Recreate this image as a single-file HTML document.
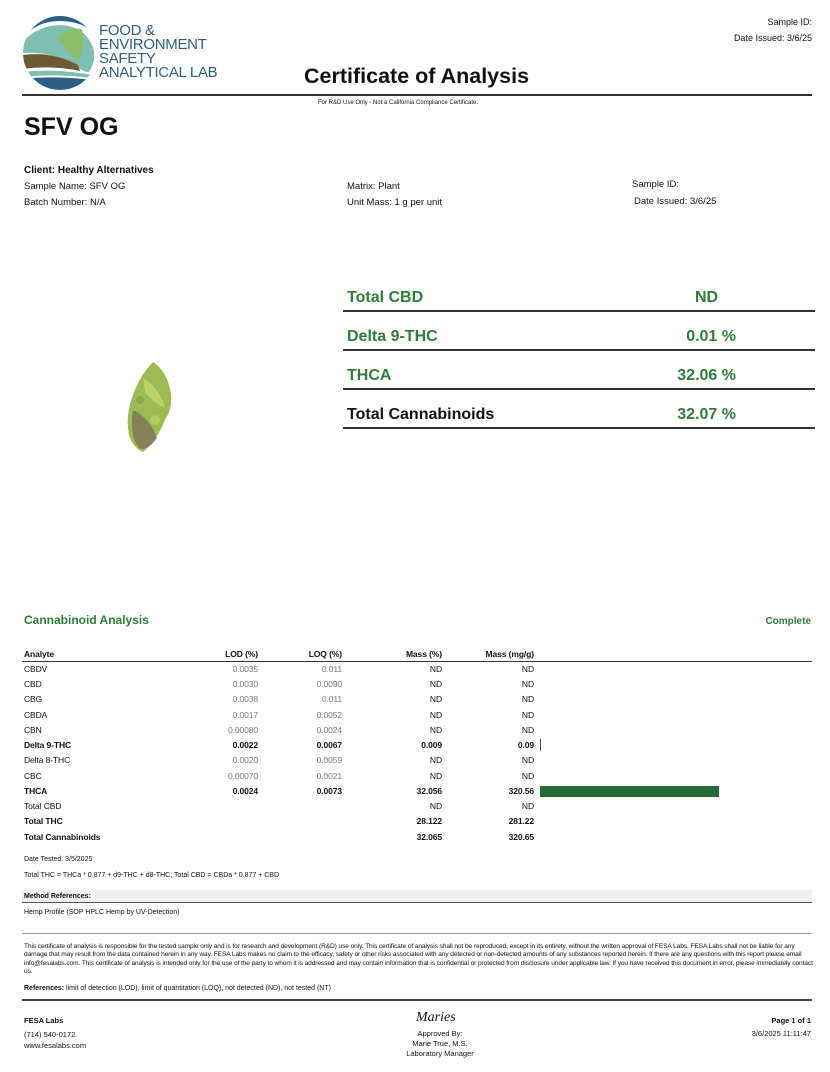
<!DOCTYPE html>
<html><head><meta charset="utf-8"><style>
*{margin:0;padding:0;box-sizing:border-box}
body{width:830px;height:1072px;background:#fff;position:relative;font-family:"Liberation Sans",Arial,sans-serif;color:#111;overflow:hidden}
.a{position:absolute;white-space:nowrap}
.g{color:#2e7d3a}
.r{text-align:right}
.t{font-size:8.5px;letter-spacing:-0.1px}
.gr{color:#777}
.b{font-weight:bold}
</style></head><body>
<svg class="a" style="left:22px;top:15px" width="76" height="76" viewBox="0 0 76 76">
<defs><clipPath id="c"><circle cx="38" cy="38" r="37"/></clipPath></defs>
<g clip-path="url(#c)">
<rect width="76" height="76" fill="#fff"/>
<path d="M0 0 L76 0 L76 20 Q60 6 38 6 Q15 6 2 22Z" fill="#2b5f86"/>
<path d="M0 28 Q15 10 40 10 Q62 12 70 30 Q76 45 66 58 L50 50 Q30 36 0 38Z" fill="#7fbfb0"/>
<path d="M36 22 Q46 12 60 14 Q64 32 56 46 Q44 36 36 22Z" fill="#8bbd6a"/>
<path d="M0 40 Q30 36 56 50 L58 56 Q30 50 0 54Z" fill="#6b5a33"/>
<path d="M0 56 Q35 52 76 60 L76 64 Q38 58 0 62Z" fill="#7fbfb0"/>
<path d="M0 64 Q38 60 76 66 L76 76 L0 76Z" fill="#2b5f86"/>
</g>
<path d="M0 56 Q35 52 76 60" stroke="#fff" stroke-width="2" fill="none"/>
</svg>
<div class="a" style="left:99px;top:24px;font-size:15px;line-height:14px;color:#2d5d80;letter-spacing:-0.3px">FOOD &amp;<br>ENVIRONMENT<br>SAFETY<br>ANALYTICAL LAB</div>
<div class="a r" style="right:18px;top:17px;font-size:9px">Sample ID:</div>
<div class="a r" style="right:18px;top:33px;font-size:9px">Date Issued: 3/6/25</div>
<div class="a b" style="left:304px;top:64px;font-size:21.5px">Certificate of Analysis</div>
<div class="a" style="left:22px;top:94px;width:790px;height:2px;background:#333"></div>
<div class="a" style="left:318px;top:100px;font-size:6px">For R&amp;D Use Only - Not a California Compliance Certificate.</div>
<div class="a b" style="left:24px;top:113px;font-size:25px">SFV OG</div>
<div class="a b" style="left:24px;top:165px;font-size:10px">Client: Healthy Alternatives</div>
<div class="a" style="left:24px;top:181px;font-size:9.5px">Sample Name: SFV OG</div>
<div class="a" style="left:24px;top:197px;font-size:9.5px">Batch Number: N/A</div>
<div class="a" style="left:347px;top:181px;font-size:9.5px">Matrix: Plant</div>
<div class="a" style="left:347px;top:197px;font-size:9.5px">Unit Mass: 1 g per unit</div>
<div class="a" style="left:632px;top:179px;font-size:9.5px">Sample ID:</div>
<div class="a" style="left:634px;top:196px;font-size:9.5px">Date Issued: 3/6/25</div>

<svg class="a" style="left:125px;top:360px" width="50" height="95" viewBox="0 0 50 95">
<path d="M28 2 Q40 10 44 25 Q50 45 40 60 Q32 80 18 92 Q8 88 4 75 Q0 55 8 35 Q15 15 28 2Z" fill="#9dbb55"/>
<path d="M8 50 Q25 58 32 78 Q22 92 14 88 Q4 75 8 50Z" fill="#7a6e5a" opacity=".75"/>
<path d="M18 18 Q35 28 40 48 Q30 44 20 32Z" fill="#c3d86a" opacity=".8"/>
<circle cx="30" cy="60" r="5" fill="#b8cf60" opacity=".8"/>
<circle cx="15" cy="40" r="4" fill="#8aa848"/>
</svg>

<div class="a b g" style="left:347px;top:289px;font-size:16px">Total CBD</div>
<div class="a b g" style="left:695px;top:289px;font-size:16px">ND</div>
<div class="a" style="left:343px;top:310px;width:472px;height:2px;background:#333"></div>
<div class="a b g" style="left:347px;top:328px;font-size:16px">Delta 9-THC</div>
<div class="a b g r" style="left:600px;width:136px;top:328px;font-size:16px">0.01 %</div>
<div class="a" style="left:343px;top:349px;width:472px;height:2px;background:#333"></div>
<div class="a b g" style="left:347px;top:367px;font-size:16px">THCA</div>
<div class="a b g r" style="left:600px;width:136px;top:367px;font-size:16px">32.06 %</div>
<div class="a" style="left:343px;top:388px;width:472px;height:2px;background:#333"></div>
<div class="a b" style="left:347px;top:406px;font-size:16px">Total Cannabinoids</div>
<div class="a b g r" style="left:600px;width:136px;top:406px;font-size:16px">32.07 %</div>
<div class="a" style="left:343px;top:427px;width:472px;height:2px;background:#333"></div>

<div class="a b g" style="left:24px;top:613px;font-size:12px">Cannabinoid Analysis</div>
<div class="a b g" style="right:19px;top:616px;font-size:10px">Complete</div>

<div class="a b t" style="left:24px;top:649px">Analyte</div>
<div class="a b t r" style="left:158px;width:100px;top:649px">LOD (%)</div>
<div class="a b t r" style="left:242px;width:100px;top:649px">LOQ (%)</div>
<div class="a b t r" style="left:342px;width:100px;top:649px">Mass (%)</div>
<div class="a b t r" style="left:434px;width:100px;top:649px">Mass (mg/g)</div>
<div class="a" style="left:22px;top:661px;width:790px;height:1px;background:#333"></div>

<div class="a t" style="left:24px;top:664px">CBDV</div><div class="a t r gr" style="left:158px;width:100px;top:664px">0.0035</div><div class="a t r gr" style="left:242px;width:100px;top:664px">0.011</div><div class="a t r" style="left:342px;width:100px;top:664px">ND</div><div class="a t r" style="left:434px;width:100px;top:664px">ND</div>
<div class="a t" style="left:24px;top:679px">CBD</div><div class="a t r gr" style="left:158px;width:100px;top:679px">0.0030</div><div class="a t r gr" style="left:242px;width:100px;top:679px">0.0090</div><div class="a t r" style="left:342px;width:100px;top:679px">ND</div><div class="a t r" style="left:434px;width:100px;top:679px">ND</div>
<div class="a t" style="left:24px;top:694px">CBG</div><div class="a t r gr" style="left:158px;width:100px;top:694px">0.0038</div><div class="a t r gr" style="left:242px;width:100px;top:694px">0.011</div><div class="a t r" style="left:342px;width:100px;top:694px">ND</div><div class="a t r" style="left:434px;width:100px;top:694px">ND</div>
<div class="a t" style="left:24px;top:710px">CBDA</div><div class="a t r gr" style="left:158px;width:100px;top:710px">0.0017</div><div class="a t r gr" style="left:242px;width:100px;top:710px">0.0052</div><div class="a t r" style="left:342px;width:100px;top:710px">ND</div><div class="a t r" style="left:434px;width:100px;top:710px">ND</div>
<div class="a t" style="left:24px;top:725px">CBN</div><div class="a t r gr" style="left:158px;width:100px;top:725px">0.00080</div><div class="a t r gr" style="left:242px;width:100px;top:725px">0.0024</div><div class="a t r" style="left:342px;width:100px;top:725px">ND</div><div class="a t r" style="left:434px;width:100px;top:725px">ND</div>
<div class="a t b" style="left:24px;top:740px">Delta 9-THC</div><div class="a t r b" style="left:158px;width:100px;top:740px">0.0022</div><div class="a t r b" style="left:242px;width:100px;top:740px">0.0067</div><div class="a t r b" style="left:342px;width:100px;top:740px">0.009</div><div class="a t r b" style="left:434px;width:100px;top:740px">0.09</div><div class="a" style="left:540px;top:739px;width:1px;height:12px;background:#2a6b37"></div>
<div class="a t" style="left:24px;top:755px">Delta 8-THC</div><div class="a t r gr" style="left:158px;width:100px;top:755px">0.0020</div><div class="a t r gr" style="left:242px;width:100px;top:755px">0.0059</div><div class="a t r" style="left:342px;width:100px;top:755px">ND</div><div class="a t r" style="left:434px;width:100px;top:755px">ND</div>
<div class="a t" style="left:24px;top:771px">CBC</div><div class="a t r gr" style="left:158px;width:100px;top:771px">0.00070</div><div class="a t r gr" style="left:242px;width:100px;top:771px">0.0021</div><div class="a t r" style="left:342px;width:100px;top:771px">ND</div><div class="a t r" style="left:434px;width:100px;top:771px">ND</div>
<div class="a t b" style="left:24px;top:786px">THCA</div><div class="a t r b" style="left:158px;width:100px;top:786px">0.0024</div><div class="a t r b" style="left:242px;width:100px;top:786px">0.0073</div><div class="a t r b" style="left:342px;width:100px;top:786px">32.056</div><div class="a t r b" style="left:434px;width:100px;top:786px">320.56</div><div class="a" style="left:540px;top:786px;width:179px;height:11px;background:#266b36"></div>
<div class="a t" style="left:24px;top:801px">Total CBD</div><div class="a t r" style="left:342px;width:100px;top:801px">ND</div><div class="a t r" style="left:434px;width:100px;top:801px">ND</div>
<div class="a t b" style="left:24px;top:816px">Total THC</div><div class="a t r b" style="left:342px;width:100px;top:816px">28.122</div><div class="a t r b" style="left:434px;width:100px;top:816px">281.22</div>
<div class="a t b" style="left:24px;top:832px">Total Cannabinoids</div><div class="a t r b" style="left:342px;width:100px;top:832px">32.065</div><div class="a t r b" style="left:434px;width:100px;top:832px">320.65</div>

<div class="a" style="left:24px;top:856px;font-size:7px">Date Tested: 3/5/2025</div>
<div class="a" style="left:24px;top:872px;font-size:7px">Total THC = THCa * 0.877 + d9-THC + d8-THC; Total CBD = CBDa * 0.877 + CBD</div>
<div class="a" style="left:22px;top:890px;width:790px;height:13px;background:#f0f0f0;border-bottom:1px solid #555"></div>
<div class="a b" style="left:24px;top:893px;font-size:7px">Method References:</div>
<div class="a" style="left:24px;top:909px;font-size:7px">Hemp Profile (SOP HPLC Hemp by UV-Detection)</div>
<div class="a" style="left:22px;top:933px;width:790px;height:1px;background:#999"></div>
<div class="a" style="left:24px;top:943px;width:790px;font-size:6.6px;line-height:8.3px;white-space:normal;letter-spacing:-0.1px">This certificate of analysis is responsible for the tested sample only and is for research and development (R&amp;D) use only. This certificate of analysis shall not be reproduced, except in its entirety, without the written approval of FESA Labs. FESA Labs shall not be liable for any damage that may result from the data contained herein in any way. FESA Labs makes no claim to the efficacy, safety or other risks associated with any detected or non-detected amounts of any substances reported herein. If there are any questions with this report please email info@fesalabs.com. This certificate of analysis is intended only for the use of the party to whom it is addressed and may contain information that is confidential or protected from disclosure under applicable law. If you have received this document in error, please immediately contact us.</div>
<div class="a" style="left:24px;top:985px;font-size:7px"><b>References:</b> limit of detection (LOD), limit of quantitation (LOQ), not detected (ND), not tested (NT)</div>
<div class="a" style="left:22px;top:999px;width:790px;height:2px;background:#444"></div>
<div class="a b" style="left:24px;top:1016px;font-size:7.5px">FESA Labs</div>
<div class="a" style="left:24px;top:1029px;font-size:7.5px;line-height:11px">(714) 540-0172<br>www.fesalabs.com</div>
<div class="a" style="left:416px;top:1010px;font-size:14px;font-style:italic;font-family:'Liberation Serif',serif">Maries</div>
<div class="a" style="left:340px;width:200px;top:1029px;font-size:7.5px;line-height:10px;text-align:center">Approved By:<br>Marie True, M.S.<br>Laboratory Manager</div>
<div class="a b r" style="right:19px;top:1016px;font-size:7.5px">Page 1 of 1</div>
<div class="a r" style="right:19px;top:1029px;font-size:7.5px">3/6/2025 11:11:47</div>
</body></html>
